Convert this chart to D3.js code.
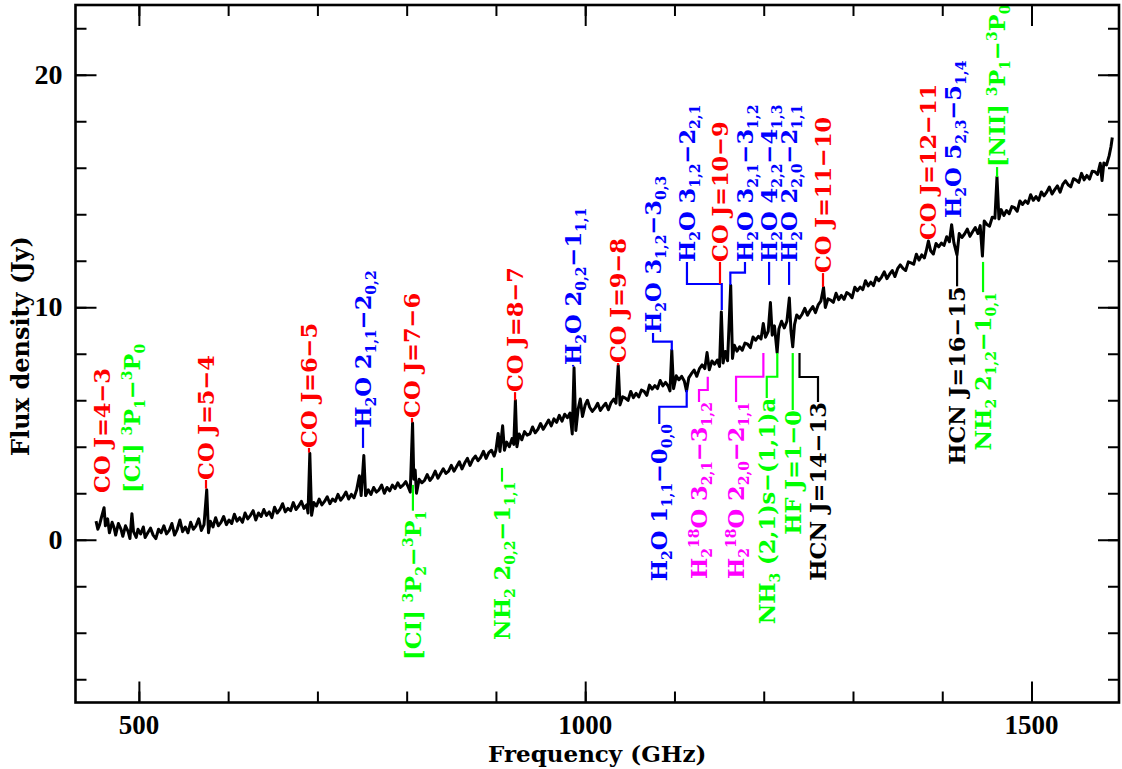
<!DOCTYPE html>
<html>
<head>
<meta charset="utf-8">
<script src="https://cdn.jsdelivr.net/npm/d3@7"></script>
<style>
  body { margin: 0; background: #fff; }
  svg { display: block; }
  text { white-space: pre; }
</style>
</head>
<body>
<div id="chart"></div>
<script>
// spectrum: [frequency (GHz), flux density (Jy)]
var spectrum = [
  [452, 0.80], [454, 0.45], [456, 0.65], [458, 0.95], [461, 1.38], [462.5, 0.60], [465, 0.90], [467, 0.30],
  [470, 0.75], [472, 0.55], [474, 0.20], [477, 0.70], [480, 0.45], [482, 0.15], [485, 0.60], [488, 0.35],
  [490, 0.05], [492.2, 1.12], [494, 0.35], [497, 0.10], [499, 0.45], [502, 0.25], [505, 0.55], [507, 0.10],
  [510, 0.30], [513, 0.50], [516, 0.20], [519, 0.05], [522, 0.45], [525, 0.30], [528, 0.60], [531, 0.25],
  [534, 0.40], [537, 0.70], [540, 0.20], [543, 0.45], [546, 0.85], [549, 0.35], [552, 0.55], [555, 0.30],
  [558, 0.75], [561, 0.45], [564, 0.60], [567, 0.90], [570, 0.40], [573, 0.65], [576, 2.15], [578, 0.30],
  [580, 0.80], [583, 0.55], [586, 0.95], [589, 0.60], [592, 0.75], [595, 1.00], [598, 0.65], [601, 0.85],
  [604, 0.70], [607, 1.10], [610, 0.80], [613, 0.95], [616, 0.75], [619, 1.15], [622, 0.90], [625, 1.05],
  [628, 1.25], [631, 0.85], [634, 1.15], [637, 1.00], [640, 1.30], [643, 1.05], [646, 1.20], [649, 0.95],
  [652, 1.40], [655, 1.15], [658, 1.30], [661, 1.55], [664, 1.20], [667, 1.35], [670, 1.25], [673, 1.60],
  [676, 1.30], [679, 1.45], [682, 1.65], [685, 1.35], [688, 1.50], [689.5, 1.15], [691.5, 3.72], [693.5, 1.05],
  [696, 1.60], [699, 1.45], [702, 1.75], [705, 1.50], [708, 1.65], [711, 1.85], [714, 1.55], [717, 1.75],
  [720, 1.65], [723, 1.95], [726, 1.70], [729, 1.85], [732, 2.05], [735, 1.75], [738, 1.95], [741, 1.80],
  [744, 2.15], [747, 2.75], [749, 1.90], [752, 3.62], [754, 1.90], [757, 2.15], [760, 1.95], [763, 2.25],
  [766, 2.05], [769, 2.15], [772, 2.35], [775, 2.00], [778, 2.25], [781, 2.10], [784, 2.35], [787, 2.20],
  [790, 2.45], [793, 2.25], [796, 2.35], [799, 2.50], [802, 2.25], [804, 2.05], [806.6, 5.02], [808, 2.60],
  [809.5, 3.00], [811, 2.00], [814, 2.60], [817, 2.45], [820, 2.55], [823, 2.80], [826, 2.55], [829, 2.70],
  [832, 2.95], [835, 2.65], [838, 2.85], [841, 3.05], [844, 2.85], [847, 2.95], [850, 3.20], [853, 2.95],
  [856, 3.15], [859, 3.35], [862, 3.05], [865, 3.30], [868, 3.50], [871, 3.20], [874, 3.45], [877, 3.60],
  [880, 3.40], [883, 3.55], [886, 3.80], [889, 3.50], [892, 3.75], [895, 3.85], [898, 3.60], [900, 3.85],
  [902.5, 4.57], [904.5, 3.80], [907.5, 4.90], [909.5, 3.85], [912, 4.20], [915, 4.00], [918, 4.35], [920, 4.10],
  [921.8, 6.00], [923.5, 4.00], [926, 4.55], [929, 4.30], [932, 4.65], [935, 4.50], [938, 4.55], [941, 4.85],
  [944, 4.60], [947, 4.75], [950, 5.00], [953, 4.75], [956, 4.95], [959, 5.15], [962, 4.90], [965, 5.20],
  [968, 5.05], [971, 5.35], [974, 5.10], [977, 5.40], [980, 5.25], [983, 5.45], [985.5, 4.55], [987.5, 7.40],
  [989.5, 4.70], [992, 5.60], [994.5, 6.05], [997, 5.30], [1000, 5.80], [1002.5, 6.00], [1005, 5.70], [1008, 5.52],
  [1011, 5.66], [1014, 5.87], [1017, 5.56], [1020, 5.73], [1023, 5.87], [1026, 5.59], [1029, 5.90], [1032, 6.05],
  [1034.5, 5.87], [1037, 7.50], [1039, 5.80], [1042, 6.15], [1045, 6.09], [1048, 5.99], [1051, 6.38], [1054, 6.11],
  [1057, 6.30], [1060, 6.14], [1063, 6.44], [1066, 6.38], [1069, 6.21], [1072, 6.65], [1075, 6.48], [1078, 6.63],
  [1081, 6.50], [1084, 6.85], [1087, 6.62], [1090, 6.77], [1093, 6.61], [1095, 6.40], [1097, 8.15], [1099, 6.50],
  [1102, 7.05], [1105, 6.88], [1108, 7.03], [1111, 6.83], [1113.5, 6.40], [1116, 6.96], [1119, 7.14], [1122, 7.30],
  [1125, 7.03], [1128, 7.36], [1131, 7.52], [1134, 7.36], [1136.5, 8.05], [1139, 7.31], [1142, 7.69], [1145, 7.55],
  [1148, 7.73], [1150.5, 7.45], [1152.5, 9.80], [1154.5, 7.60], [1157, 8.10], [1159.5, 7.70], [1163, 10.95], [1165, 7.80],
  [1167, 8.37], [1170, 8.11], [1173, 8.30], [1176, 8.15], [1179, 8.46], [1182, 8.41], [1185, 8.26], [1188, 8.72],
  [1191, 8.58], [1194, 8.75], [1197, 8.64], [1199.5, 9.30], [1202, 8.71], [1205, 8.96], [1207.5, 10.20], [1209.5, 8.80],
  [1212, 9.20], [1215, 8.05], [1217, 9.07], [1220, 9.40], [1223, 9.11], [1226, 9.40], [1228.7, 10.40], [1230.5, 9.00],
  [1232.5, 8.30], [1234.5, 9.25], [1237, 9.67], [1240, 9.53], [1243, 9.70], [1246, 9.95], [1249, 9.66], [1252, 9.87],
  [1255, 10.03], [1258, 9.77], [1261, 10.10], [1264, 10.26], [1267, 10.85], [1269, 9.99], [1272, 10.36], [1275, 10.31],
  [1278, 10.21], [1281, 10.60], [1284, 10.33], [1287, 10.51], [1290, 10.34], [1293, 10.63], [1296, 10.56], [1299, 10.41],
  [1302, 10.86], [1305, 10.71], [1308, 10.87], [1311, 10.76], [1314, 11.14], [1317, 10.92], [1320, 11.08], [1323, 10.93],
  [1326, 11.29], [1329, 11.14], [1332, 11.30], [1335, 11.52], [1338, 11.23], [1341, 11.42], [1344, 11.58], [1347, 11.32],
  [1350, 11.66], [1353, 11.82], [1356, 11.67], [1359, 11.58], [1362, 11.95], [1365, 11.91], [1368, 11.85], [1371, 12.28],
  [1374, 12.03], [1377, 12.25], [1380, 12.12], [1382, 12.41], [1384.5, 12.85], [1387, 12.43], [1390, 12.29], [1393, 12.74],
  [1396, 12.60], [1399, 12.76], [1402, 12.66], [1405, 13.03], [1408, 12.82], [1410.5, 13.55], [1413, 12.78], [1416.5, 12.25],
  [1419, 13.17], [1422, 13.00], [1425, 13.15], [1428, 13.36], [1431, 13.05], [1434, 13.25], [1437, 13.43], [1440, 13.17],
  [1442.5, 13.51], [1445, 12.20], [1447, 13.71], [1450, 13.56], [1453, 13.49], [1456, 13.87], [1459, 13.83], [1461.3, 15.60],
  [1463.5, 13.80], [1466, 14.20], [1469, 13.95], [1472, 14.16], [1475, 14.02], [1478, 14.33], [1481, 14.28], [1484, 14.13],
  [1487, 14.57], [1490, 14.42], [1493, 14.58], [1496, 14.47], [1499, 14.84], [1502, 14.60], [1505, 14.76], [1508, 14.60],
  [1511, 14.96], [1514, 14.79], [1517, 14.95], [1520, 15.17], [1523, 14.87], [1526, 15.06], [1529, 15.22], [1532, 14.95],
  [1535, 15.28], [1538, 15.44], [1541, 15.27], [1544, 15.18], [1547, 15.53], [1550, 15.47], [1553, 15.37], [1556, 15.76],
  [1559, 15.48], [1562, 15.67], [1565, 15.51], [1568, 15.85], [1571, 15.83], [1574, 15.71], [1577, 16.19], [1579, 15.45],
  [1581, 16.20], [1584, 16.12], [1587, 16.52], [1589, 16.90], [1590.5, 17.30]
];

// line identifications (markup: _x subscript, ^x superscript)
var lineNames = [
  "CO J=4−3", "[CI] ^3P_1−^3P_0", "CO J=5−4", "CO J=6−5", "H_2O 2_{1,1}−2_{0,2}", "CO J=7−6",
  "[CI] ^3P_2−^3P_1", "CO J=8−7", "NH_2 2_{0,2}−1_{1,1}", "H_2O 2_{0,2}−1_{1,1}", "CO J=9−8",
  "H_2O 3_{1,2}−3_{0,3}", "H_2O 3_{1,2}−2_{2,1}", "CO J=10−9", "H_2O 3_{2,1}−3_{1,2}",
  "H_2O 4_{2,2}−4_{1,3}", "H_2O 2_{2,0}−2_{1,1}", "CO J=11−10", "CO J=12−11", "H_2O 5_{2,3}−5_{1,4}",
  "[NII] ^3P_1−^3P_0", "H_2O 1_{1,1}−0_{0,0}", "H_2^{18}O 3_{2,1}−3_{1,2}", "H_2^{18}O 2_{2,0}−2_{1,1}",
  "NH_3 (2,1)s−(1,1)a", "HF J=1−0", "HCN J=14−13", "HCN J=16−15", "NH_2 2_{1,2}−1_{0,1}"
];
var lineSpecies = [
  "CO", "CI", "CO", "CO", "H2O", "CO", "CI", "CO", "NH2", "H2O", "CO", "H2O", "H2O", "CO", "H2O",
  "H2O", "H2O", "CO", "CO", "H2O", "NII", "H2O", "H218O", "H218O", "NH3", "HF", "HCN", "HCN", "NH2"
];
var lineFreq = [
  458.7, 492.3, 575.2, 690.6, 751.1, 806, 807, 921.4, 906.8, 986.4, 1036.8, 1097, 1153, 1151, 1162.6,
  1206, 1228.4, 1266.4, 1384, 1412, 1461.4, 1113.7, 1137.3, 1199.6, 1215.2, 1232.5, 1240.1, 1416.6, 1445.7
];
// label placement: [side, text column (GHz), leader start (Jy), leader bend (Jy), text anchor (Jy)]
var labelPlace = [
  ["up", 458.7, 2.01, 2.01, 2.01], ["up", 492.3, 2.01, 2.01, 2.01], ["up", 575.2, 2.2, 2.2, 2.57],
  ["up", 690.6, 3.75, 3.75, 3.95], ["up", 751.1, 3.95, 3.95, 4.82], ["up", 806, 5.05, 5.05, 5.24],
  ["down", 807, 2.36, 2.36, 1.25], ["up", 921.4, 6.0, 6.0, 6.35], ["down", 906.8, 3.09, 3.09, 2.5],
  ["up", 986.4, 7.45, 7.45, 7.52], ["up", 1036.8, 7.5, 7.5, 7.6], ["up", 1076, 8.15, 8.52, 8.89],
  ["up", 1114, 9.88, 11.0, 11.95], ["up", 1151, 11.0, 11.0, 11.95], ["up", 1179, 10.96, 11.49, 11.95],
  ["up", 1206, 10.96, 10.96, 11.95], ["up", 1228.4, 10.96, 10.96, 11.95], ["up", 1266.4, 10.87, 10.87, 11.47],
  ["up", 1384, 12.89, 12.89, 12.89], ["up", 1412, 13.84, 13.84, 13.84], ["up", 1461.4, 15.6, 15.6, 16.03],
  ["down", 1083, 6.44, 5.72, 4.98], ["down", 1127.5, 7.01, 6.44, 5.92], ["down", 1169, 8.03, 7.01, 5.92],
  ["down", 1203.4, 8.03, 7.01, 6.1], ["down", 1232.5, 8.03, 8.03, 5.58], ["down", 1260.8, 8.03, 7.0, 5.92],
  ["down", 1416.6, 12.25, 12.25, 10.9], ["down", 1445.7, 11.95, 11.95, 10.65]
];

var xMajor = [500, 1000, 1500];
var xMinor = [500, 600, 700, 800, 900, 1000, 1100, 1200, 1300, 1400, 1500];
var yMajor = [0, 10, 20];
var yMinor = [-6, -4, -2, 0, 2, 4, 6, 8, 10, 12, 14, 16, 18, 20, 22];

var speciesColor = {
  CO: "#ff0000", CI: "#00ff00", NII: "#00ff00", NH2: "#00ff00", NH3: "#00ff00", HF: "#00ff00",
  H2O: "#0000ff", H218O: "#ff00ff", HCN: "#000000"
};

var W = 1122, H = 769;
var frame = {left: 75.5, right: 1119, top: 5, bottom: 702.5};
var labelFont = "'DejaVu Serif', 'Liberation Serif', serif";
var tickFont = "'Liberation Serif', 'Times New Roman', serif";

var x = d3.scaleLinear().domain([429, 1598]).range([frame.left, frame.right]);
var y = d3.scaleLinear().domain([-7, 23]).range([frame.bottom, frame.top]);

var svg = d3.select("#chart").append("svg")
  .attr("width", W).attr("height", H)
  .attr("viewBox", "0 0 " + W + " " + H);

// ticks on all four sides, pointing inward
function tickAxis(axisFn, scale, vals, size, transform) {
  var g = svg.append("g").attr("transform", transform)
    .call(axisFn(scale).tickValues(vals).tickSize(-size).tickSizeOuter(0).tickFormat(""));
  g.select(".domain").remove();
  g.selectAll(".tick line").attr("stroke", "#000").attr("stroke-width", 2);
}
tickAxis(d3.axisBottom, x, xMinor, 11, "translate(0," + frame.bottom + ")");
tickAxis(d3.axisBottom, x, xMajor, 21, "translate(0," + frame.bottom + ")");
tickAxis(d3.axisTop, x, xMinor, 11, "translate(0," + frame.top + ")");
tickAxis(d3.axisTop, x, xMajor, 21, "translate(0," + frame.top + ")");
tickAxis(d3.axisLeft, y, yMinor, 11, "translate(" + frame.left + ",0)");
tickAxis(d3.axisLeft, y, yMajor, 21, "translate(" + frame.left + ",0)");
tickAxis(d3.axisRight, y, yMinor, 11, "translate(" + frame.right + ",0)");
tickAxis(d3.axisRight, y, yMajor, 21, "translate(" + frame.right + ",0)");

// tick labels
svg.append("g").selectAll("text").data(xMajor).enter().append("text")
  .attr("x", function(d) { return x(d); })
  .attr("y", frame.bottom + 31.5)
  .attr("text-anchor", "middle")
  .attr("font-family", tickFont).attr("font-weight", "bold").attr("font-size", 27)
  .text(function(d) { return d; });
svg.append("g").selectAll("text").data(yMajor).enter().append("text")
  .attr("x", frame.left - 13)
  .attr("y", function(d) { return y(d) + 9; })
  .attr("text-anchor", "end")
  .attr("font-family", tickFont).attr("font-weight", "bold").attr("font-size", 28)
  .text(function(d) { return d; });

// axis titles
svg.append("text")
  .attr("x", (frame.left + frame.right) / 2).attr("y", 762)
  .attr("text-anchor", "middle")
  .attr("font-family", labelFont).attr("font-weight", "bold").attr("font-size", 23)
  .text("Frequency (GHz)");
svg.append("text")
  .attr("transform", "translate(29,346) rotate(-90)")
  .attr("text-anchor", "middle")
  .attr("font-family", labelFont).attr("font-weight", "bold").attr("font-size", 24)
  .text("Flux density (Jy)");

// spectrum
svg.append("path")
  .datum(spectrum)
  .attr("fill", "none")
  .attr("stroke", "#000")
  .attr("stroke-width", 3)
  .attr("stroke-linejoin", "round")
  .attr("d", d3.line().x(function(d) { return x(d[0]); }).y(function(d) { return y(d[1]); }));

// split "H_2^{18}O" style markup into plain / sub / super pieces
function pieces(s) {
  var out = [], re = /([_^])(?:\{([^}]*)\}|(.))/g, last = 0, m;
  while ((m = re.exec(s))) {
    if (m.index > last) out.push({t: s.slice(last, m.index), k: 0});
    out.push({t: m[2] !== undefined ? m[2] : m[3], k: m[1] === "_" ? -1 : 1});
    last = re.lastIndex;
  }
  if (last < s.length) out.push({t: s.slice(last), k: 0});
  return out;
}

var labels = lineNames.map(function(name, i) {
  var p = labelPlace[i];
  return {name: name, color: speciesColor[lineSpecies[i]], freq: lineFreq[i],
          side: p[0], col: p[1], y0: p[2], y1: p[3], y2: p[4]};
});

var lab = svg.append("g");
labels.forEach(function(d) {
  if (d.y0 !== d.y2) {
    var pts = [[d.freq, d.y0], [d.freq, d.y1], [d.col, d.y1], [d.col, d.y2]];
    lab.append("path")
      .attr("fill", "none").attr("stroke", d.color).attr("stroke-width", 2.2)
      .attr("d", d3.line().x(function(p) { return x(p[0]); }).y(function(p) { return y(p[1]); })(pts));
  }
  var t = lab.append("text")
    .attr("transform", "translate(" + x(d.col) + "," + y(d.y2) + ") rotate(-90)")
    .attr("y", 8)
    .attr("text-anchor", d.side === "up" ? "start" : "end")
    .attr("font-family", labelFont).attr("font-weight", "bold").attr("font-size", 22.5)
    .attr("fill", d.color);
  pieces(d.name).forEach(function(p) {
    var s = t.append("tspan").text(p.t);
    if (p.k !== 0) {
      s.attr("font-size", 14).style("baseline-shift", p.k < 0 ? "-5px" : "8px");
    }
  });
});

// frame
svg.append("rect")
  .attr("x", frame.left).attr("y", frame.top)
  .attr("width", frame.right - frame.left).attr("height", frame.bottom - frame.top)
  .attr("fill", "none").attr("stroke", "#000").attr("stroke-width", 2.6);
</script>
</body>
</html>
